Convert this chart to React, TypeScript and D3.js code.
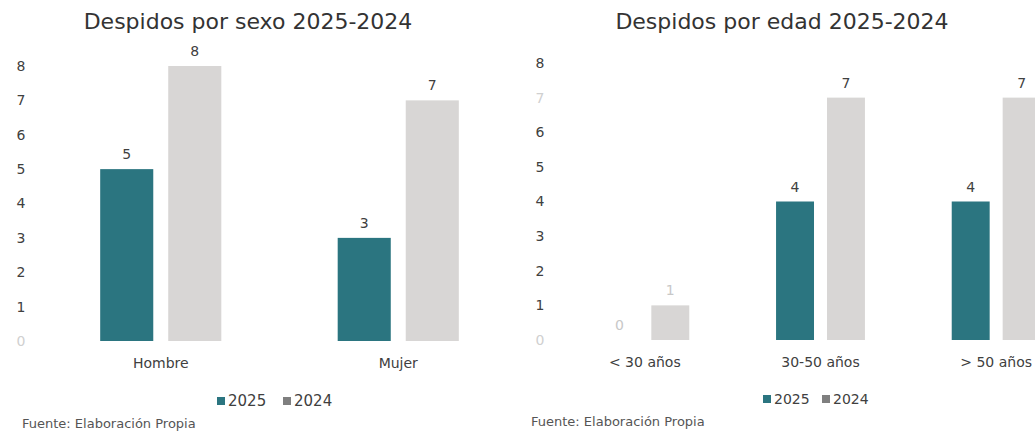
import React from "react";
import * as d3 from "d3";

const seriesNames = ["2025", "2024"];
const sexCategories = ["Hombre", "Mujer"];
const sex2025 = [5, 3];
const sex2024 = [8, 7];
const ageCategories = ["< 30 años", "30-50 años", "> 50 años"];
const age2025 = [0, 4, 4];
const age2024 = [1, 7, 7];
const yTicks = [0, 1, 2, 3, 4, 5, 6, 7, 8];

const TEAL = "#2b7580";
const GREY = "#d8d6d5";
const TEXT = "#404040";
const FONT = "'DejaVu Sans', Verdana, sans-serif";

type ChartProps = {
  title: string;
  titleX: number;
  categories: string[];
  v2025: number[];
  v2024: number[];
  xRange: [number, number];
  innerPad: number;
  outerPad: number;
  barGapPad: number;
  axisX: number;
  baseY: number;
  topY: number;
  faintTicks: number[];
  faintLabels: boolean[][];
  legendX: number;
  legendY: number;
  legendSize: number;
  legendGap: number;
  footerX: number;
  footerY: number;
};

function Chart(p: ChartProps) {
  const y = d3.scaleLinear().domain([0, 8]).range([p.baseY, p.topY]);
  const x0 = d3
    .scaleBand()
    .domain(p.categories)
    .range(p.xRange)
    .paddingInner(p.innerPad)
    .paddingOuter(p.outerPad);
  const x1 = d3
    .scaleBand()
    .domain(seriesNames)
    .range([0, x0.bandwidth()])
    .paddingInner(p.barGapPad);
  const vals = [p.v2025, p.v2024];
  const colors = [TEAL, GREY];
  return (
    <g fontFamily={FONT}>
      <text x={p.titleX} y={29} textAnchor="middle" fontSize={22} fill="#333">
        {p.title}
      </text>
      {yTicks.map((t) => (
        <text
          key={t}
          x={p.axisX}
          y={y(t)}
          dy="0.35em"
          textAnchor="middle"
          fontSize={14}
          fill={p.faintTicks.includes(t) ? "#d0d0d0" : TEXT}
        >
          {t}
        </text>
      ))}
      {p.categories.map((c, ci) => (
        <g key={c} transform={`translate(${x0(c)},0)`}>
          {seriesNames.map((s, si) => {
            const v = vals[si][ci];
            const bx = x1(s) as number;
            return (
              <g key={s}>
                {v > 0 && (
                  <rect
                    x={bx}
                    y={y(v)}
                    width={x1.bandwidth()}
                    height={y(0) - y(v)}
                    fill={colors[si]}
                  />
                )}
                <text
                  x={bx + x1.bandwidth() / 2}
                  y={y(v) - 10}
                  textAnchor="middle"
                  fontSize={14}
                  fill={p.faintLabels[ci][si] ? "#c8c8c8" : TEXT}
                >
                  {v}
                </text>
              </g>
            );
          })}
          <text
            x={x0.bandwidth() / 2}
            y={p.baseY + 27}
            textAnchor="middle"
            fontSize={14}
            fill={TEXT}
          >
            {c}
          </text>
        </g>
      ))}
      <g transform={`translate(${p.legendX},${p.legendY})`}>
        <rect x={0} y={-9} width={8} height={8} fill={TEAL} />
        <text x={11} y={0} fontSize={p.legendSize} fill={TEXT}>
          2025
        </text>
        <rect x={p.legendGap} y={-9} width={8} height={8} fill="#7f7f7f" />
        <text x={p.legendGap + 11} y={0} fontSize={p.legendSize} fill={TEXT}>
          2024
        </text>
      </g>
      <text x={p.footerX} y={p.footerY} fontSize={13} fill="#555">
        Fuente: Elaboración Propia
      </text>
    </g>
  );
}

export default function App() {
  return (
    <svg
      width={1035}
      height={434}
      style={{ position: "absolute", left: 0, top: 0, background: "#fff" }}
    >
      <Chart
        title="Despidos por sexo 2025-2024"
        titleX={248}
        categories={sexCategories}
        v2025={sex2025}
        v2024={sex2024}
        xRange={[42, 517]}
        innerPad={0.49}
        outerPad={0.245}
        barGapPad={0.22}
        axisX={21}
        baseY={341}
        topY={66}
        faintTicks={[0]}
        faintLabels={[
          [false, false],
          [false, false],
        ]}
        legendX={217}
        legendY={406}
        legendSize={15}
        legendGap={66}
        footerX={22}
        footerY={428}
      />
      <Chart
        title="Despidos por edad 2025-2024"
        titleX={782}
        categories={ageCategories}
        v2025={age2025}
        v2024={age2024}
        xRange={[557, 1084]}
        innerPad={0.494}
        outerPad={0.247}
        barGapPad={0.255}
        axisX={540}
        baseY={340}
        topY={63}
        faintTicks={[0, 7]}
        faintLabels={[
          [true, true],
          [false, false],
          [false, false],
        ]}
        legendX={763}
        legendY={404}
        legendSize={14}
        legendGap={59}
        footerX={531}
        footerY={426}
      />
    </svg>
  );
}
